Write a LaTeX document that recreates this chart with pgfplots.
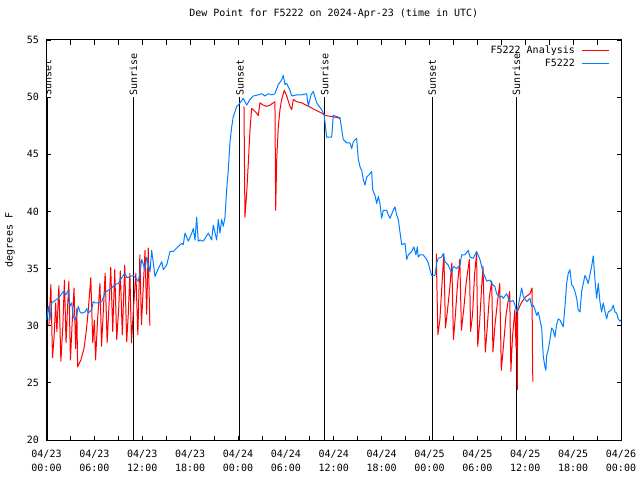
\documentclass[border=0pt]{standalone}
\usepackage{pgfplots}
\pgfplotsset{compat=1.18}
\usepackage{fontspec}
\setmainfont{DejaVu Sans Mono}
\definecolor{anared}{RGB}{255,0,0}
\definecolor{obsblue}{RGB}{0,128,255}
\begin{document}
\fontsize{10}{14}\selectfont
\begin{tikzpicture}[font=\fontsize{10}{14}\selectfont]
\begin{axis}[
  at={(0,0)}, anchor=south west,
  scale only axis, width=574.5pt, height=400pt,
  xmin=0, xmax=72, ymin=20, ymax=55,
  xtick={0,6,...,72},
  xticklabels={{04/23\\00:00},{04/23\\06:00},{04/23\\12:00},{04/23\\18:00},{04/24\\00:00},{04/24\\06:00},{04/24\\12:00},{04/24\\18:00},{04/25\\00:00},{04/25\\06:00},{04/25\\12:00},{04/25\\18:00},{04/26\\00:00}},
  minor x tick num=1,
  ytick={20,25,...,55},
  /pgf/number format/assume math mode=true,
  xticklabel style={align=center, yshift=-6.5pt, font=\fontsize{10}{14}\selectfont},
  yticklabel style={xshift=-4pt},
  major tick length=4.5pt, minor tick length=4.5pt,
  tick style={black, line width=0.8pt},
  axis line style={line width=1pt},
  title={Dew Point for F5222 on 2024-Apr-23 (time in UTC)},
  title style={at={(axis description cs:0.5,1.05)}, anchor=center},
  ylabel={degrees F},
  ylabel style={at={(axis description cs:-0.0635,0.5)}, anchor=center, rotate=0},
  legend plot pos=right,
  legend cell align=right,
  legend image code/.code={\draw[#1] (0pt,0pt) -- (27pt,0pt);},
  legend style={at={(axis description cs:0.981,0.99)}, anchor=north east, draw=none, fill=none, inner sep=0pt, row sep=0pt, column sep=5pt, nodes={inner sep=2pt}},
]
% sunrise / sunset lines
\addplot[black, line width=1pt, forget plot] coordinates {(0.15,20)(0.15,50)};
\addplot[black, line width=1pt, forget plot] coordinates {(10.9,20)(10.9,50)};
\addplot[black, line width=1pt, forget plot] coordinates {(24.25,20)(24.25,50)};
\addplot[black, line width=1pt, forget plot] coordinates {(34.85,20)(34.85,50)};
\addplot[black, line width=1pt, forget plot] coordinates {(48.35,20)(48.35,50)};
\addplot[black, line width=1pt, forget plot] coordinates {(58.9,20)(58.9,50)};
\node[rotate=90, anchor=west, inner sep=1pt] at (axis cs:0.15,50) {Sunset};
\node[rotate=90, anchor=west, inner sep=1pt] at (axis cs:10.9,50) {Sunrise};
\node[rotate=90, anchor=west, inner sep=1pt] at (axis cs:24.25,50) {Sunset};
\node[rotate=90, anchor=west, inner sep=1pt] at (axis cs:34.85,50) {Sunrise};
\node[rotate=90, anchor=west, inner sep=1pt] at (axis cs:48.35,50) {Sunset};
\node[rotate=90, anchor=west, inner sep=1pt] at (axis cs:58.9,50) {Sunrise};
% analysis (red)
\addplot[anared, line width=1pt, line join=round] coordinates {
(0.3,30.0)(0.55,33.6)(0.75,27.2)(0.95,29.0)(1.15,32.0)(1.3,29.5)(1.55,33.5)(1.8,26.9)(2.05,30.0)(2.25,34.0)(2.45,28.5)(2.6,31.0)(2.8,33.9)(3.0,27.0)(3.2,30.0)(3.45,33.3)(3.65,28.0)(3.8,31.5)(3.9,26.4)(4.3,27.0)(4.7,28.0)(5.0,29.6)(5.25,31.5)(5.55,34.2)(5.8,28.5)(6.0,30.5)(6.15,27.0)(6.4,30.5)(6.7,33.7)(6.9,28.2)(7.1,31.0)(7.35,34.6)(7.6,28.5)(7.85,32.0)(8.05,35.1)(8.3,29.5)(8.55,34.9)(8.8,28.8)(9.05,31.5)(9.25,34.8)(9.5,29.2)(9.8,35.3)(10.05,28.6)(10.25,31.0)(10.45,34.6)(10.65,28.5)(10.9,31.5)(11.2,34.6)(11.45,29.2)(11.7,36.2)(11.9,30.1)(12.1,33.0)(12.35,36.6)(12.55,31.0)(12.75,36.8)(12.95,30.0)
};
\addlegendentry{F5222 Analysis}
\addplot[anared, line width=1pt, line join=round, forget plot] coordinates {
(24.75,49.2)(24.87,39.5)(25.09,41.6)(25.29,44.2)(25.50,47.1)(25.71,49.0)(25.91,48.9)(26.34,48.6)(26.54,48.4)(26.75,49.5)(27.17,49.3)(27.59,49.2)(28.01,49.3)(28.42,49.5)(28.63,49.6)(28.72,40.1)(28.85,44.5)(29.05,47.4)(29.26,48.9)(29.47,49.8)(29.80,50.6)(30.10,50.1)(30.51,49.2)(30.73,48.9)(30.93,49.8)(31.35,49.6)(31.98,49.5)(32.81,49.2)(33.65,48.9)(34.49,48.6)(34.90,48.4)(35.74,48.3)(36.57,48.2)(36.78,48.1)
};
\addplot[anared, line width=1pt, line join=round, forget plot] coordinates {
(48.85,36.3)(49.05,29.2)(49.3,30.5)(49.55,33.5)(49.8,36.3)(50.0,29.8)(50.2,31.0)(50.5,33.0)(50.8,35.5)(51.0,28.8)(51.2,30.5)(51.5,33.5)(51.8,35.8)(52.0,29.6)(52.3,31.5)(52.6,33.8)(53.0,35.8)(53.15,29.5)(53.4,31.0)(53.65,34.5)(53.9,36.3)(54.05,28.2)(54.3,30.5)(54.5,33.0)(54.7,35.2)(55.0,27.7)(55.2,29.5)(55.5,32.5)(55.8,33.9)(55.95,27.7)(56.2,30.0)(56.5,32.0)(56.8,33.7)(57.0,26.1)(57.3,28.5)(57.6,31.0)(58.05,33.0)(58.2,26.0)(58.4,29.0)(58.7,31.4)(58.85,28.0)(58.95,31.0)(59.0,24.4)(59.05,31.3)(59.5,32.0)(60.0,32.5)(60.6,32.8)(60.85,33.3)(60.9,28.0)(60.95,25.1)
};
% observations (blue)
\addplot[obsblue, line width=1pt, line join=round] coordinates {
(0.0,30.5)(0.23,31.7)(0.44,30.5)(0.65,32.0)(1.48,32.4)(2.11,33.0)(2.41,32.7)(2.73,33.1)(2.94,31.7)(3.16,32.0)(3.36,30.8)(3.57,30.5)(3.78,30.9)(3.98,31.7)(4.20,31.2)(4.41,31.1)(4.82,31.2)(5.04,31.5)(5.24,31.1)(5.66,31.4)(5.86,32.1)(6.08,32.0)(6.49,32.0)(6.92,32.1)(7.33,32.9)(7.74,33.1)(8.17,33.3)(8.58,33.6)(9.00,33.7)(9.42,34.2)(9.84,34.6)(10.05,34.2)(10.46,34.3)(10.88,34.4)(11.50,33.9)(11.72,34.6)(11.93,35.8)(12.34,34.9)(12.56,36.0)(12.97,34.7)(13.18,36.6)(13.60,34.3)(14.01,35.0)(14.44,35.6)(14.64,34.9)(15.06,35.3)(15.48,36.5)(15.89,36.5)(16.32,36.8)(16.94,37.2)(17.14,37.1)(17.36,38.1)(17.77,37.4)(18.20,38.1)(18.40,38.5)(18.61,37.5)(18.82,39.5)(19.02,37.4)(19.24,37.5)(19.65,37.4)(20.28,38.1)(20.70,37.5)(20.90,38.8)(21.33,37.5)(21.53,39.3)(21.74,38.1)(21.95,39.3)(22.16,38.7)(22.37,39.5)(22.58,41.9)(22.78,43.6)(22.99,46.0)(23.21,47.4)(23.41,48.3)(23.62,48.7)(23.83,49.2)(24.04,49.3)(24.25,49.5)(24.66,49.9)(25.09,49.3)(25.50,49.8)(25.91,50.1)(26.54,50.2)(26.97,50.3)(27.38,50.1)(27.79,50.3)(28.22,50.2)(28.63,50.3)(29.05,51.1)(29.47,51.5)(29.67,51.9)(29.89,51.1)(30.10,51.2)(30.51,50.6)(30.73,50.1)(31.35,50.2)(31.98,50.2)(32.61,50.3)(32.81,49.2)(33.15,50.2)(33.43,50.5)(33.86,49.5)(34.49,48.9)(34.81,48.4)(35.11,46.5)(35.74,46.5)(35.94,48.4)(36.37,48.3)(36.78,48.2)(37.19,46.3)(37.62,46.0)(38.03,46.0)(38.25,45.5)(38.45,46.1)(38.87,46.4)(39.07,44.6)(39.29,43.9)(39.50,43.6)(39.70,42.8)(39.91,42.3)(40.13,43.0)(40.54,43.3)(40.75,43.5)(40.88,41.9)(41.17,41.4)(41.38,40.7)(41.58,41.3)(41.79,40.7)(42.00,39.4)(42.21,40.1)(42.63,40.1)(42.83,39.7)(43.05,39.4)(43.46,40.1)(43.67,40.4)(43.88,39.7)(44.09,39.3)(44.51,37.1)(44.93,37.2)(45.14,35.8)(45.34,36.2)(45.76,36.5)(46.05,36.9)(46.30,36.2)(46.47,36.9)(46.59,36.0)(46.80,36.2)(47.22,36.2)(47.64,35.8)(47.84,35.5)(48.06,34.9)(48.27,34.4)(48.68,34.4)(48.90,35.5)(49.10,35.9)(49.52,36.0)(49.72,36.3)(49.94,35.6)(50.35,35.3)(50.78,34.6)(50.98,35.2)(51.40,35.0)(51.82,35.3)(52.03,36.2)(52.44,36.2)(52.86,36.6)(53.07,36.0)(53.48,35.9)(53.91,36.5)(54.32,35.8)(54.74,34.6)(54.95,34.3)(55.16,33.9)(55.58,34.0)(55.79,33.7)(56.20,33.4)(56.42,32.8)(56.83,32.5)(57.04,32.6)(57.24,32.4)(57.67,32.8)(58.08,32.1)(58.50,32.2)(58.71,31.8)(58.92,31.2)(59.12,31.7)(59.55,33.3)(59.75,32.6)(60.18,32.1)(60.59,32.4)(60.80,31.7)(61.00,31.8)(61.22,31.4)(61.43,30.9)(61.63,31.2)(62.06,29.8)(62.26,27.3)(62.47,26.4)(62.59,26.1)(62.68,27.4)(62.88,27.9)(63.10,28.8)(63.31,29.8)(63.51,29.6)(63.72,29.0)(63.93,30.1)(64.14,30.6)(64.35,30.5)(64.76,29.9)(64.98,31.7)(65.19,33.7)(65.39,34.6)(65.60,34.9)(65.81,33.6)(66.02,33.4)(66.23,33.0)(66.44,32.4)(66.64,31.4)(66.86,31.2)(67.07,33.0)(67.48,34.4)(67.69,34.1)(67.89,33.7)(68.32,35.2)(68.52,36.1)(68.73,34.1)(68.95,32.4)(69.15,33.7)(69.36,32.1)(69.57,31.2)(69.77,32.0)(70.20,30.6)(70.40,31.2)(70.83,31.4)(71.03,31.8)(71.24,31.2)(71.45,31.1)(71.65,30.6)(71.87,30.4)(72.0,30.5)
};
\addlegendentry{F5222}
\end{axis}
\pgfresetboundingbox
\path (-46.5pt,-40pt) rectangle (593.5pt,440pt);
\end{tikzpicture}
\end{document}
